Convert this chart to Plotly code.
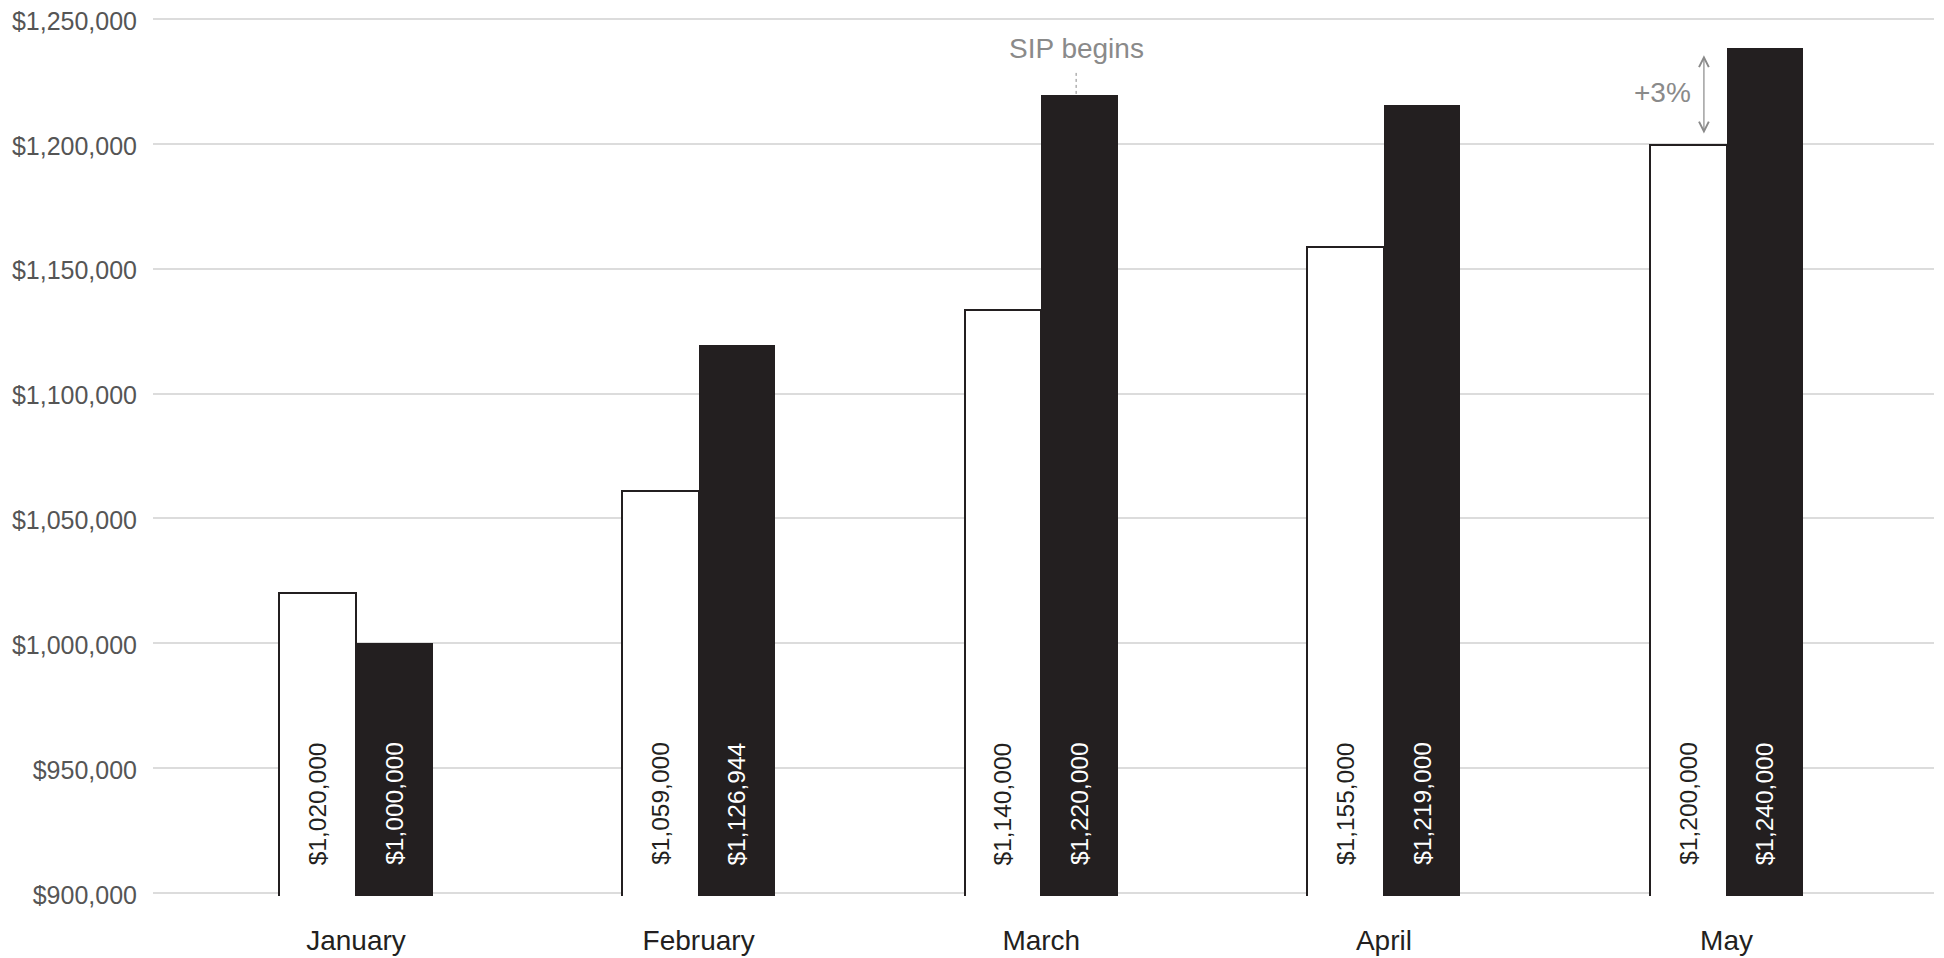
import plotly.graph_objects as go

months = ["January", "February", "March", "April", "May"]
# bar heights as drawn
without_sip = [1020000, 1061000, 1133500, 1158500, 1199500]
with_sip = [1000000, 1119500, 1219500, 1215500, 1238500]
# printed labels
without_labels = ["$1,020,000", "$1,059,000", "$1,140,000", "$1,155,000", "$1,200,000"]
with_labels = ["$1,000,000", "$1,126,944", "$1,220,000", "$1,219,000", "$1,240,000"]
y_ticks = [900000, 950000, 1000000, 1050000, 1100000, 1150000, 1200000, 1250000]
y_tick_text = ["$900,000", "$950,000", "$1,000,000", "$1,050,000", "$1,100,000",
               "$1,150,000", "$1,200,000", "$1,250,000"]

DARK = "#231f20"
GREY = "#8a8a8a"
FONT = "Liberation Sans, Arial, Helvetica, sans-serif"
BW = 0.2235

xs = list(range(len(months)))

fig = go.Figure()
fig.add_trace(go.Bar(x=xs, y=without_sip, width=BW, offset=-BW,
                     marker=dict(color="white", line=dict(color=DARK, width=2)),
                     hoverinfo="skip", showlegend=False))
fig.add_trace(go.Bar(x=xs, y=with_sip, width=BW, offset=0,
                     marker=dict(color=DARK, line=dict(color=DARK, width=0)),
                     hoverinfo="skip", showlegend=False))

for i in xs:
    fig.add_annotation(x=i - BW / 2, y=900000, text=without_labels[i], textangle=-90,
                       showarrow=False, yanchor="bottom", xanchor="center", yshift=26,
                       font=dict(family=FONT, size=24.5, color=DARK))
    fig.add_annotation(x=i + BW / 2, y=900000, text=with_labels[i], textangle=-90,
                       showarrow=False, yanchor="bottom", xanchor="center", yshift=26,
                       font=dict(family=FONT, size=24.5, color="white"))

# SIP begins annotation
sip_x = 2 + BW / 2 - 0.01
fig.add_annotation(x=sip_x, y=1238000, text="SIP begins", showarrow=False,
                   font=dict(family=FONT, size=28, color=GREY))
fig.add_shape(type="line", x0=sip_x, x1=sip_x, y0=1220000, y1=1229000,
              line=dict(color=GREY, width=1, dash="dot"))

# +3% arrow
fig.add_annotation(x=3.934, y=1235500, ax=3.934, ay=1203500, axref="x", ayref="y",
                   text="", showarrow=True, arrowhead=5, startarrowhead=5,
                   arrowside="end+start", arrowsize=1.6, startarrowsize=1.6,
                   arrowwidth=1.2, arrowcolor=GREY)
fig.add_annotation(x=3.812, y=1220500, text="+3%", showarrow=False, xanchor="center",
                   font=dict(family=FONT, size=28, color=GREY))

fig.update_layout(
    width=1936, height=950,
    margin=dict(l=145, r=10, t=8, b=62, autoexpand=False),
    plot_bgcolor="white", paper_bgcolor="white",
    bargap=0, barmode="overlay",
    font=dict(family=FONT),
    xaxis=dict(range=[-0.5925, 4.6055], tickvals=xs, ticktext=months,
               showgrid=False, zeroline=False, showline=False, ticks="",
               ticklabelstandoff=25, automargin=False, ticklabeloverflow="allow",
               tickfont=dict(family=FONT, size=28, color=DARK)),
    yaxis=dict(range=[898800, 1251200], tickvals=y_ticks, ticktext=y_tick_text,
               showgrid=True, gridcolor="#dcdcdc", gridwidth=1.5, zeroline=False,
               showline=False, ticks="", ticklabelstandoff=15, ticklabelshift=2,
               automargin=False, ticklabeloverflow="allow",
               tickfont=dict(family=FONT, size=25, color="#555555")),
)

fig.write_html("out.html")
